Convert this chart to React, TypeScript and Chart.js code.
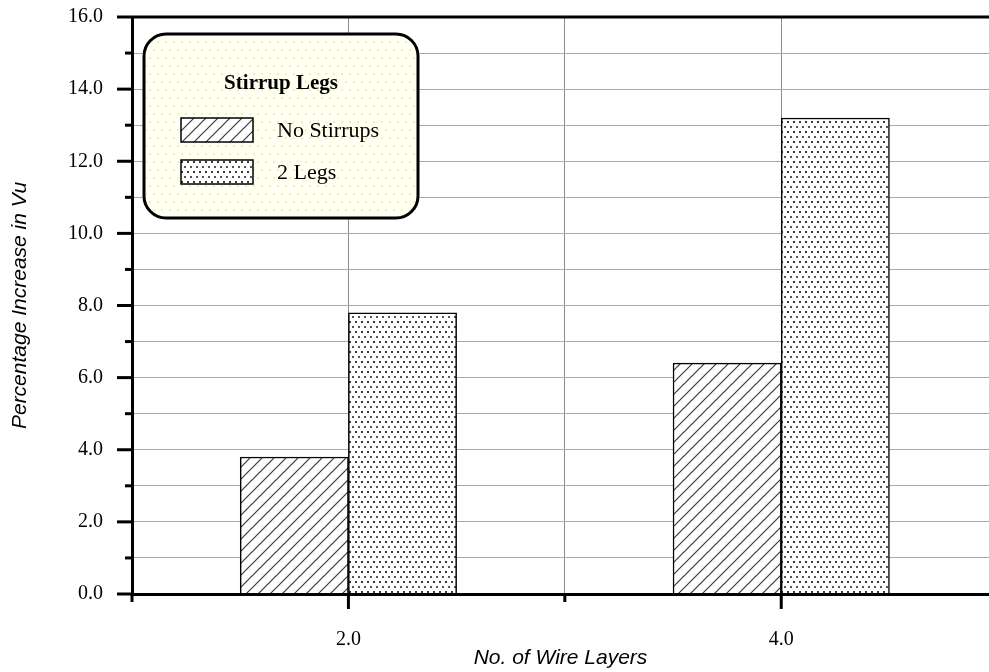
import React, { useEffect, useRef } from 'react';
import { Chart, registerables } from 'chart.js';

Chart.register(...registerables);

// ---- data ----
const wireLayers = [2, 4];
const noStirrups = [3.8, 6.4];
const twoLegs = [7.8, 13.2];
const seriesLabels = ['No Stirrups', '2 Legs'];
const legendTitle = 'Stirrup Legs';
const xTitle = 'No. of Wire Layers';
const yTitle = 'Percentage Increase in Vu';
const xRange = [1, 4.96];
const yRange = [0, 16];

const SERIF = '"Liberation Serif", "Times New Roman", serif';
const SANS = '"Liberation Sans", Arial, sans-serif';

function tile(w: number, h: number, draw: (c: CanvasRenderingContext2D) => void) {
  const cv = document.createElement('canvas');
  cv.width = w;
  cv.height = h;
  const c = cv.getContext('2d')!;
  draw(c);
  return cv;
}

function makePatterns(ctx: CanvasRenderingContext2D) {
  const hatch = tile(12, 12, (c) => {
    c.fillStyle = '#fff';
    c.fillRect(0, 0, 12, 12);
    c.strokeStyle = '#3a3a3a';
    c.lineWidth = 1.2;
    c.beginPath();
    c.moveTo(-1, 13);
    c.lineTo(13, -1);
    c.moveTo(-7, 7);
    c.lineTo(7, -7);
    c.moveTo(5, 19);
    c.lineTo(19, 5);
    c.stroke();
  });
  const dots = tile(6, 10, (c) => {
    c.fillStyle = '#fff';
    c.fillRect(0, 0, 6, 10);
    c.fillStyle = '#3a3a3a';
    c.fillRect(1, 1, 2, 2);
    c.fillStyle = '#555';
    c.fillRect(4, 6, 2, 2);
  });
  const legendBg = tile(8, 16, (c) => {
    c.fillStyle = '#fffff4';
    c.fillRect(0, 0, 8, 16);
    c.fillStyle = '#f5f1a6';
    c.fillRect(1, 1, 2, 2);
    c.fillRect(5, 9, 2, 2);
  });
  return {
    hatch: ctx.createPattern(hatch, 'repeat')!,
    dots: ctx.createPattern(dots, 'repeat')!,
    legendBg: ctx.createPattern(legendBg, 'repeat')!,
  };
}

export default function App() {
  const ref = useRef<HTMLCanvasElement | null>(null);

  useEffect(() => {
    document.body.style.margin = '0';
    const canvas = ref.current!;
    const ctx = canvas.getContext('2d')!;
    const pats = makePatterns(ctx);

    const decor = {
      id: 'decor',
      afterDraw(chart: any) {
        const c = chart.ctx as CanvasRenderingContext2D;
        const { left, right, top, bottom } = chart.chartArea;
        const xs = chart.scales.x;
        const ys = chart.scales.y;
        c.save();
        c.strokeStyle = '#000';
        c.lineWidth = 3;
        c.lineCap = 'butt';
        // top frame line
        c.beginPath();
        c.moveTo(left, top);
        c.lineTo(right, top);
        c.stroke();
        // y ticks
        ys.ticks.forEach((t: any) => {
          const y = ys.getPixelForValue(t.value);
          const len = t.value % 2 === 0 ? 15 : 7;
          c.beginPath();
          c.moveTo(left - len, y);
          c.lineTo(left, y);
          c.stroke();
        });
        // x ticks
        xs.ticks.forEach((t: any) => {
          const x = xs.getPixelForValue(t.value);
          const len = t.value % 2 === 0 ? 15 : 8;
          c.beginPath();
          c.moveTo(x, bottom);
          c.lineTo(x, bottom + len);
          c.stroke();
        });
        // legend box
        const lx = left + 12;
        const ly = top + 17;
        const lw = 274;
        const lh = 184;
        c.beginPath();
        (c as any).roundRect(lx, ly, lw, lh, 22);
        c.fillStyle = pats.legendBg;
        c.fill();
        c.lineWidth = 3;
        c.strokeStyle = '#000';
        c.stroke();
        c.fillStyle = '#000';
        c.font = `bold 21px ${SERIF}`;
        c.textAlign = 'center';
        c.textBaseline = 'middle';
        c.fillText(legendTitle, lx + lw / 2, ly + 50);
        chart.data.datasets.forEach((ds: any, i: number) => {
          const sy = ly + 84 + i * 42;
          c.fillStyle = ds.backgroundColor;
          c.fillRect(lx + 37, sy, 72, 24);
          c.lineWidth = 1.5;
          c.strokeStyle = '#000';
          c.strokeRect(lx + 37, sy, 72, 24);
          c.fillStyle = '#000';
          c.font = `22px ${SERIF}`;
          c.textAlign = 'left';
          c.fillText(ds.label, lx + 133, sy + 13);
        });
        c.restore();
      },
    };

    const evenLabel = (v: any) => (Number(v) % 2 === 0 ? Number(v).toFixed(1) : '');

    const chart = new Chart(canvas, {
      type: 'bar',
      data: {
        datasets: [
          {
            label: seriesLabels[0],
            data: wireLayers.map((x, i) => ({ x, y: noStirrups[i] })),
            backgroundColor: pats.hatch as any,
            borderColor: '#000',
            borderWidth: 1.5,
            categoryPercentage: 1,
            barPercentage: 1,
          },
          {
            label: seriesLabels[1],
            data: wireLayers.map((x, i) => ({ x, y: twoLegs[i] })),
            backgroundColor: pats.dots as any,
            borderColor: '#000',
            borderWidth: 1.5,
            categoryPercentage: 1,
            barPercentage: 1,
          },
        ],
      },
      options: {
        responsive: false,
        animation: false,
        layout: { padding: { top: 17, left: 0, right: 0, bottom: 0 } },
        plugins: { legend: { display: false }, tooltip: { enabled: false } },
        scales: {
          x: {
            type: 'linear',
            offset: false,
            min: xRange[0],
            max: xRange[1],
            afterFit: (s: any) => {
              s.height = 78;
              s.paddingLeft = 0;
              s.paddingRight = 0;
            },
            grid: { color: '#8c8c8c', lineWidth: 1, drawTicks: false, offset: false },
            border: { display: true, color: '#000', width: 3, z: 1 } as any,
            ticks: {
              stepSize: 1,
              includeBounds: false,
              autoSkip: false,
              maxRotation: 0,
              padding: 34,
              color: '#000',
              font: { family: SERIF, size: 20 },
              callback: evenLabel,
            },
            title: {
              display: true,
              text: xTitle,
              color: '#000',
              font: { family: SANS, size: 21, style: 'italic' },
              padding: { top: 0, bottom: 1 },
            },
          },
          y: {
            min: yRange[0],
            max: yRange[1],
            afterFit: (s: any) => {
              s.width = 132;
              s.paddingTop = 0;
              s.paddingBottom = 0;
            },
            grid: { color: '#a8a8a8', lineWidth: 1, drawTicks: false },
            border: { display: true, color: '#000', width: 3, z: 1 } as any,
            ticks: {
              stepSize: 1,
              autoSkip: false,
              padding: 29,
              color: '#000',
              font: { family: SERIF, size: 20 },
              callback: evenLabel,
            },
            title: {
              display: true,
              text: yTitle,
              color: '#000',
              font: { family: SANS, size: 21, style: 'italic' },
              padding: { top: 8, bottom: 0 },
            },
          },
        },
      },
      plugins: [decor],
    });
    return () => chart.destroy();
  }, []);

  return (
    <div style={{ width: 989, height: 672 }}>
      <canvas ref={ref} width={989} height={672} style={{ display: 'block' }} />
    </div>
  );
}
